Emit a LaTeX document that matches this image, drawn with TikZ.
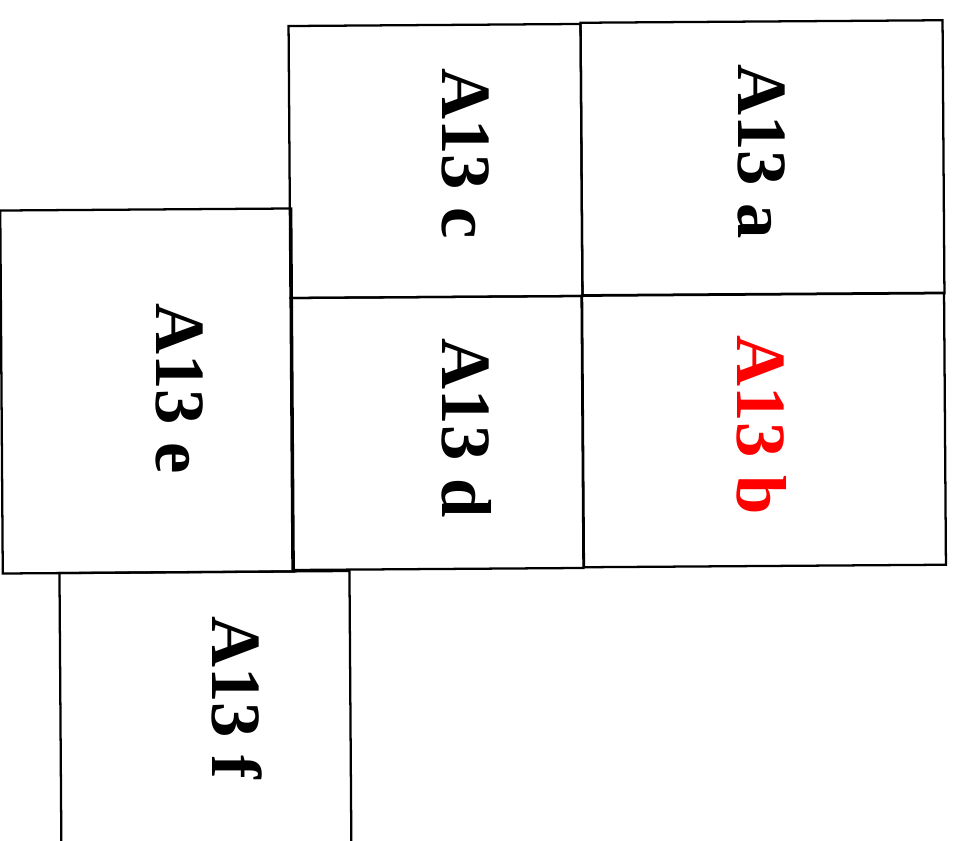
\documentclass[tikz,border=0pt]{standalone}
\usepackage{fontspec}
\setmainfont{Liberation Serif}
\definecolor{rojo}{HTML}{FF0000}

\begin{document}
\begin{tikzpicture}[x=0.75pt, y=-0.75pt,
			celda/.style 2 args={draw, line width=1.7pt, rotate=0.4, inner sep=0pt, anchor=center,
			              minimum width=#1*0.75pt, minimum height=#2*0.75pt},
			rotulo/.style={font=\fontsize{53}{53}\selectfont\bfseries, rotate=-90, inner sep=0pt, anchor=center}]
			\useasboundingbox (0,0) rectangle (957,841);
			\clip (0,0) rectangle (957,841);
			% casillas
			\node[celda={362}{273}] (ca) at (762.5,158) {};
			\node[celda={292}{272}] (cc) at (435.5,161) {};
			\node[celda={362}{272}] (cb) at (764,430) {};
			\node[celda={291}{272}] (cd) at (437,433) {};
			\node[celda={291}{363}] (ce) at (147,391) {};
			\node[celda={290}{300}] (cf) at (205.5,722) {};
			% rotulos
			\node[rotulo] (ra) at (762,152) {A13 a};
			\node[rotulo] (rc) at (466,154) {A13 c};
			\node[rotulo, text=rojo] (rb) at (762,425) {A13 b};
			\node[rotulo] (rd) at (467,428) {A13 d};
			\node[rotulo] (re) at (180,389) {A13 e};
			\node[rotulo] (rf) at (237,698) {A13 f};
		\end{tikzpicture}
\end{document}
